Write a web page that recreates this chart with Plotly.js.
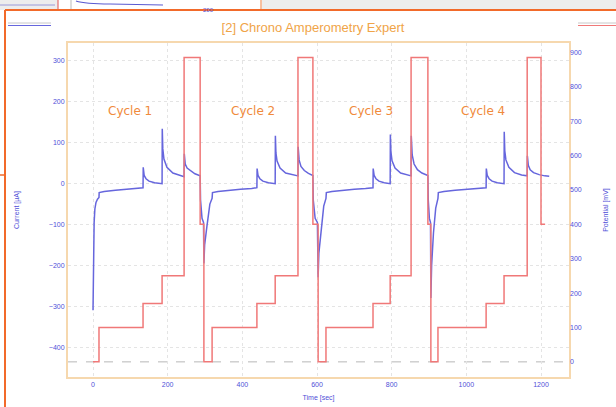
<!DOCTYPE html>
<html>
<head>
<meta charset="utf-8">
<script src="https://cdn.plot.ly/plotly-3.0.1.min.js"></script>
<style>html,body{margin:0;padding:0;background:#fff;}#chart{width:616px;height:407px;}</style>
</head>
<body>
<div id="chart"></div>
<script>
// Potential steps (mV) vs time (s)
const potTime = [0, 16, 134, 185, 244, 287, 297, 319, 439, 488, 549, 589, 603, 624, 750, 796, 852, 897, 905, 924, 1053, 1101, 1163, 1200, 1211];
const potValue = [0, 100, 170, 250, 885, 400, 0, 100, 170, 250, 885, 400, 0, 100, 170, 250, 885, 400, 0, 100, 170, 250, 885, 400, 400];

// Current (µA) per cycle
const cycle1Time = [0, 0.5, 1.5, 3, 5, 8, 12, 16, 16.5, 30, 60, 90, 120, 134, 134.5, 137, 142, 150, 165, 185, 185.5, 187, 190, 198, 214, 233, 244, 244.5, 247, 252, 260, 273, 287, 288, 292, 296];
const cycle1Current = [-310, -200, -140, -95, -62, -46, -38, -34, -22, -19, -16, -14, -12, -10, 40, 20, 12, 6, 2, 0, 134, 85, 60, 40, 26, 20, 17, 73, 48, 38, 32, 24, 19, -40, -85, -95];

const cycle2Time = [297, 299, 305, 313, 319, 320, 335, 365, 395, 425, 439, 439.5, 442, 447, 455, 470, 488, 488.5, 490, 493, 501, 516, 535, 549, 549.5, 552, 557, 566, 577, 589, 590, 595, 601];
const cycle2Current = [-195, -150, -105, -50, -36, -22, -19, -16, -14, -12, -10, 37, 20, 12, 6, 2, 0, 117, 75, 55, 38, 26, 21, 19, 90, 58, 42, 32, 25, 20, -40, -85, -95];

const cycle3Time = [603, 605, 611, 618, 624, 625, 640, 670, 700, 730, 750, 750.5, 753, 758, 766, 780, 796, 796.5, 798, 801, 809, 824, 840, 852, 852.5, 855, 860, 869, 881, 897, 898, 901, 904];
const cycle3Current = [-229, -170, -110, -55, -36, -22, -19, -16, -14, -12, -10, 37, 20, 12, 6, 2, 0, 120, 78, 56, 38, 26, 21, 19, 117, 70, 48, 34, 26, 20, -40, -85, -95];

const cycle4Time = [905, 907, 912, 918, 924, 925, 940, 970, 1000, 1030, 1053, 1053.5, 1056, 1061, 1069, 1083, 1101, 1101.5, 1103, 1106, 1114, 1129, 1148, 1163, 1163.5, 1166, 1171, 1180, 1195, 1210, 1222];
const cycle4Current = [-280, -200, -120, -60, -36, -22, -19, -16, -14, -12, -10, 37, 20, 12, 6, 2, 0, 127, 80, 58, 40, 27, 21, 19, 68, 45, 34, 27, 22, 19, 18];

const cycleLabels = ["Cycle 1", "Cycle 2", "Cycle 3", "Cycle 4"];
const cycleLabelTime = [99, 429, 745, 1045];
const cycleLabelCurrent = [178, 178, 178, 178];

const curTime = [].concat(cycle1Time, cycle2Time, cycle3Time, cycle4Time);
const curValue = [].concat(cycle1Current, cycle2Current, cycle3Current, cycle4Current);

const tickColor = '#5050d8';
const tickFont = {family: 'Liberation Sans, Arial, sans-serif', size: 7, color: tickColor};

// plot area pixel box for decorative shapes
const L = 68, R = 569, T = 43, B = 377;
const px = v => (v - L) / (R - L);
const py = v => (B - v) / (B - T);

const traces = [
  {x: potTime, y: potValue, yaxis: 'y2', type: 'scatter', mode: 'lines',
   line: {color: '#f07878', width: 1.5, shape: 'hv'}, name: 'Potential', hoverinfo: 'skip'},
  {x: curTime, y: curValue, yaxis: 'y', type: 'scatter', mode: 'lines',
   line: {color: '#6666dd', width: 1.5}, name: 'Current', hoverinfo: 'skip'}
];

const shapes = [
  // top strip from the window behind
  {type: 'rect', xref: 'paper', yref: 'paper', x0: px(0), x1: px(616), y0: py(10), y1: py(0), fillcolor: '#ededed', line: {width: 0}, layer: 'below'},
  {type: 'rect', xref: 'paper', yref: 'paper', x0: px(58), x1: px(262), y0: py(9), y1: py(0), fillcolor: '#ffffff', line: {width: 0}, layer: 'below'},
  {type: 'line', xref: 'paper', yref: 'paper', x0: px(58), x1: px(58), y0: py(10), y1: py(0), line: {color: '#e05050', width: 1}},
  {type: 'line', xref: 'paper', yref: 'paper', x0: px(71), x1: px(71), y0: py(10), y1: py(0), line: {color: '#bbbbbb', width: 1}},
  {type: 'line', xref: 'paper', yref: 'paper', x0: px(261), x1: px(261), y0: py(10), y1: py(0), line: {color: '#f08040', width: 1}},
  {type: 'line', xref: 'paper', yref: 'paper', x0: px(0), x1: px(55), y0: py(5), y1: py(5), line: {color: '#9a9ad8', width: 1}},
  {type: 'path', xref: 'paper', yref: 'paper', path: 'M ' + px(76) + ' ' + py(1) + ' Q ' + px(85) + ' ' + py(4) + ' ' + px(110) + ' ' + py(4) + ' L ' + px(163) + ' ' + py(5), line: {color: '#5a5ad0', width: 1.2}},
  // orange panel border
  {type: 'line', xref: 'paper', yref: 'paper', x0: px(5), x1: px(616), y0: py(10), y1: py(10), line: {color: '#f26a2a', width: 2}},
  {type: 'line', xref: 'paper', yref: 'paper', x0: px(5), x1: px(5), y0: py(10), y1: py(407), line: {color: '#f26a2a', width: 2}},
  {type: 'line', xref: 'paper', yref: 'paper', x0: px(0), x1: px(5), y0: py(175), y1: py(175), line: {color: '#f26a2a', width: 1.5}},
  // small legend strokes
  {type: 'line', xref: 'paper', yref: 'paper', x0: px(8), x1: px(51), y0: py(23), y1: py(23), line: {color: '#c8c8c8', width: 1}},
  {type: 'line', xref: 'paper', yref: 'paper', x0: px(8), x1: px(51), y0: py(25.5), y1: py(25.5), line: {color: '#6666dd', width: 1.2}},
  {type: 'line', xref: 'paper', yref: 'paper', x0: px(578), x1: px(616), y0: py(23), y1: py(23), line: {color: '#c8c8c8', width: 1}},
  {type: 'line', xref: 'paper', yref: 'paper', x0: px(578), x1: px(616), y0: py(25.5), y1: py(25.5), line: {color: '#f07878', width: 1.2}},
  // zero potential dashed line
  {type: 'line', xref: 'paper', yref: 'y2', x0: 0, x1: 1, y0: 0, y1: 0, line: {color: '#b8b8b8', width: 1, dash: 'dash'}, layer: 'below'}
];

const annotations = cycleLabels.map((t, i) => ({
  x: cycleLabelTime[i], y: cycleLabelCurrent[i], xref: 'x', yref: 'y', text: t, showarrow: false,
  font: {family: 'DejaVu Sans, sans-serif', size: 12, color: '#f08a3c'}
}));
annotations.push({x: px(201), y: py(5), xref: 'paper', yref: 'paper', text: '200', showarrow: false,
  font: {family: 'Liberation Sans, Arial, sans-serif', size: 6, color: tickColor}});

const layout = {
  width: 616, height: 407,
  margin: {l: L, r: 616 - R, t: T, b: 407 - B, pad: 0},
  paper_bgcolor: '#ffffff', plot_bgcolor: '#ffffff',
  showlegend: false,
  title: {text: '[2] Chrono Amperometry Expert', font: {family: 'Liberation Sans, Arial, sans-serif', size: 13, color: '#f0a448'},
          x: 313 / 616, xref: 'container', xanchor: 'center', y: 1 - 27 / 407, yref: 'container', yanchor: 'middle'},
  xaxis: {range: [-67, 1275], tick0: 0, dtick: 200, ticks: '', showgrid: true, gridcolor: '#e4e4e4', griddash: 'dot', gridwidth: 1,
          zeroline: false, showline: true, mirror: true, linecolor: '#f6d8ae', linewidth: 2, automargin: false,
          tickfont: tickFont, title: {text: 'Time [sec]', font: tickFont, standoff: 8}},
  yaxis: {range: [-473, 344], tick0: 0, dtick: 100, ticks: '', showgrid: true, gridcolor: '#e4e4e4', griddash: 'dot', gridwidth: 1,
          zeroline: false, showline: true, mirror: true, linecolor: '#f6d8ae', linewidth: 2, automargin: false,
          tickfont: tickFont, title: {text: 'Current [µA]', font: tickFont, standoff: 28}},
  yaxis2: {range: [-44, 927], tick0: 0, dtick: 100, ticks: '', overlaying: 'y', side: 'right', showgrid: false, zeroline: false,
           showline: false, automargin: false, tickfont: tickFont, title: {text: 'Potential [mV]', font: tickFont, standoff: 22}},
  shapes: shapes,
  annotations: annotations
};

Plotly.newPlot('chart', traces, layout, {staticPlot: true, displayModeBar: false});
</script>
</body>
</html>
